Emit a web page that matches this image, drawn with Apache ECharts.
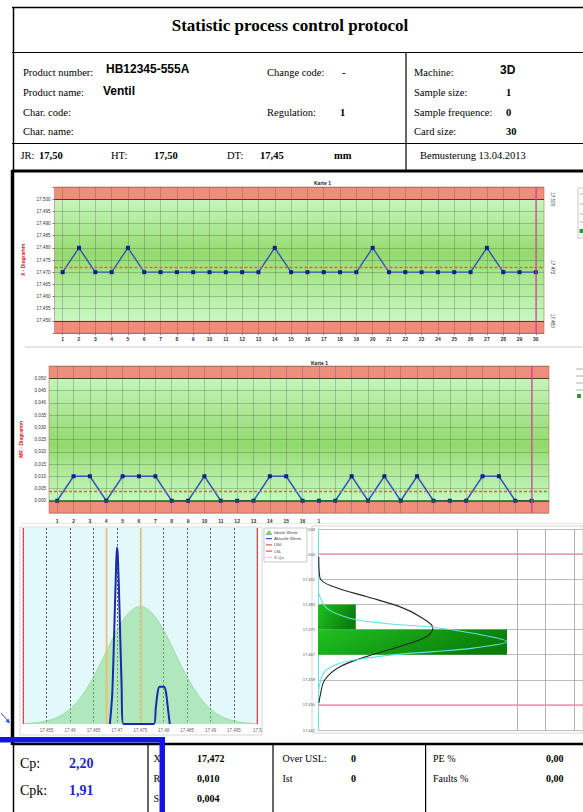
<!DOCTYPE html>
<html>
<head>
<meta charset="utf-8">
<script src="https://cdn.jsdelivr.net/npm/echarts@6.0.0/dist/echarts.min.js"></script>
<style>
html,body{margin:0;padding:0;background:#fff;overflow:hidden}
#chart{width:583px;height:812px}
</style>
</head>
<body>
<div id="chart"></div>
<script>
// ---------------- data ----------------
const reportTitle = 'Statistic process control protocol';
const infoLabels = ['Product number:', 'Product name:', 'Char. code:', 'Char. name:'];
const infoValues = ['HB12345-555A', 'Ventil', '', ''];
const midLabels = ['Change code:', '', 'Regulation:', ''];
const midValues = ['-', '', '1', ''];
const machineLabels = ['Machine:', 'Sample size:', 'Sample frequence:', 'Card size:'];
const machineValues = ['3D', '1', '0', '30'];
const tolLabels = ['JR:', 'HT:', 'DT:'];
const tolValues = ['17,50', '17,50', '17,45'];
const tolUnit = 'mm';
const samplingText = 'Bemusterung 13.04.2013';

const capLabels = ['Cp:', 'Cpk:'];
const capValues = ['2,20', '1,91'];
const statLabels = ['X', 'R', 'S'];
const statValues = ['17,472', '0,010', '0,004'];
const limitLabels = ['Over USL:', 'Ist'];
const limitValues = ['0', '0'];
const faultLabels = ['PE %', 'Faults %'];
const faultValues = ['0,00', '0,00'];

// X chart (Karte 1)
const samples = ['1','2','3','4','5','6','7','8','9','10','11','12','13','14','15','16','17','18','19','20','21','22','23','24','25','26','27','28','29','30'];
const xValues = [17.47,17.48,17.47,17.47,17.48,17.47,17.47,17.47,17.47,17.47,17.47,17.47,17.47,17.48,17.47,17.47,17.47,17.47,17.47,17.48,17.47,17.47,17.47,17.47,17.47,17.47,17.48,17.47,17.47,17.47];
const xUSL = 17.50, xLSL = 17.45, xMean = 17.472;
const xRightLabels = [17.45, 17.472, 17.50];
const currentSample = '30';

// MR chart
const mrValues = [0,0.01,0.01,0,0.01,0.01,0.01,0,0,0.01,0,0,0,0.01,0.01,0,0,0,0.01,0,0.01,0,0.01,0,0,0,0.01,0.01,0,0];
const mrLabels = ['1','2','3','4','5','6','7','8','9','10','11','12','13','14','15','16','1','','','','','','','','','','','','',''];
const mrUCL = 0.05, mrLCL = 0, mrMean = 0.004;

// histogram (distribution)
const idealCurve = [[17.450,0.002],[17.4525,0.006],[17.455,0.016],[17.4575,0.037],[17.460,0.077],[17.4625,0.144],[17.465,0.241],[17.4675,0.359],[17.470,0.478],[17.4725,0.566],[17.475,0.600],[17.4775,0.566],[17.480,0.478],[17.4825,0.359],[17.485,0.241],[17.4875,0.144],[17.490,0.077],[17.4925,0.037],[17.495,0.016],[17.4975,0.006],[17.500,0.002]];
const actualCurve = [[17.4685,0],[17.4690,0.15],[17.4694,0.45],[17.4698,0.78],[17.4700,0.90],[17.4702,0.86],[17.4706,0.55],[17.4710,0.20],[17.4714,0],[17.4779,0],[17.4783,0.08],[17.4787,0.16],[17.4791,0.19],[17.4801,0.19],[17.4805,0.16],[17.4809,0.08],[17.4813,0]];
const histLimits = [17.45, 17.50];
const histMarkA = 17.4678, histMarkB = 17.4751;
const histLegend = ['Ideale Werte', 'Aktuelle Werte', 'USL', 'LSL', 'X-Qu'];

// class table (right)
const classLabels = ['17,508','17,500','17,492','17,483','17,475','17,467','17,458','17,450','17,442'];
const classCounts = [0,0,0,5,25,0,0,0];
const classPercents = ['0%','0%','0%','17%','83%','0%','0%','0%'];
const classLimitPos = [1, 7];
const normalCurve = [[0.1,1.1],[0.26,1.95],[2.0,2.29],[6.4,2.69],[10.8,3.09],[13.5,3.49],[15.2,3.94],[14.4,4.28],[10.8,4.68],[6.4,5.08],[2.9,5.48],[0.9,6.0],[0.26,6.67],[0.13,6.92]];
const sampleCurve = [[0.04,2.49],[1.15,3.15],[4.2,3.55],[8.6,3.75],[15.2,3.91],[20.5,4.15],[25,4.48],[20.5,4.74],[15.2,4.88],[10.8,4.98],[6.4,5.14],[2.9,5.34],[0.9,5.67],[0.26,6.14],[0.04,6.52]];

// ---------------- layout ----------------
const SERIF = '"Liberation Serif", "Times New Roman", serif';
const SANS = '"Liberation Sans", Arial, sans-serif';
const G = [];
function ln(x1,y1,x2,y2,w,c,z){G.push({type:'line',silent:true,z:(z==null?100:z),shape:{x1,y1,x2,y2},style:{stroke:c||'#000',lineWidth:w||1}});}
function rc(x,y,w,h,fill,stroke,lw,z){G.push({type:'rect',silent:true,z:(z==null?100:z),shape:{x,y,width:w,height:h},style:{fill:fill||'none',stroke:stroke||'none',lineWidth:lw||0}});}
function tx(x,y,t,size,o){o=o||{};G.push({type:'text',silent:true,z:101,x,y,style:{text:t,fontSize:size,fontFamily:o.family||SERIF,fontWeight:o.bold?'bold':'normal',fill:o.color||'#000',align:o.align||'left',verticalAlign:'middle',textAlign:o.align||'left',textVerticalAlign:'middle'}});}

// header frame
ln(12,7.5,583,7.5,1.5);
ln(13.5,7,13.5,172,1.5);
ln(12,52.5,583,52.5,1.2);
ln(406,52.5,406,170,1.2);
ln(12,143.5,583,143.5,1.2);
ln(12,171,583,171,3);
tx(290,25,reportTitle,17,{bold:true,align:'center'});
const rowsY = [72.7, 92.7, 112.3, 131];
infoLabels.forEach((t,i)=>tx(23,rowsY[i],t,10.5));
tx(106,rowsY[0]-4,infoValues[0],12,{family:SANS,bold:true});
tx(103,rowsY[1]-2,infoValues[1],12,{family:SANS,bold:true});
midLabels.forEach((t,i)=>{ if(t) tx(267,rowsY[i],t,10.5); });
midValues.forEach((t,i)=>{ if(t) tx(i===0?342:340,rowsY[i],t,10.5,{bold:true}); });
machineLabels.forEach((t,i)=>tx(414,rowsY[i],t,10.5));
machineValues.forEach((t,i)=>{ if(i===0) tx(500,rowsY[0]-3,t,12,{family:SANS,bold:true}); else tx(506,rowsY[i],t,10.5,{bold:true}); });
const jrY = 155.7;
const tolLX = [20.5,111,227], tolVX = [39,154,260];
tolLabels.forEach((t,i)=>tx(tolLX[i],jrY,t,10.5));
tolValues.forEach((t,i)=>tx(tolVX[i],jrY,t,10.5,{bold:true}));
tx(334,jrY,tolUnit,10.5,{bold:true});
tx(420,jrY,samplingText,10.5);

// middle frame
ln(12.5,170,12.5,745,3.5);
ln(25,347,583,347,1.5,'#dcdcdc',-20);
ln(20,523.5,583,523.5,1,'#e8e8e8',-20);
rc(20,527,242,208,'none','#d6d6d6',1,-20);
rc(312,526,271,207,'none','#d6d6d6',1,-20);

// chart legends (mostly cut off at the right)
rc(578,188,30,50,'#fff','#bdbdbd',0.8,50);
[194,204,214,222].forEach(y=>ln(580,y,586,y,0.8,'#9a9a9a',51));
rc(579.5,229,4,4,'#2e9e2e','none',0,51);
[369,376,383,390].forEach(y=>ln(576,y,583,y,0.8,'#9a9a9a',51));
rc(577,394,4,4,'#2e9e2e','none',0,51);

// histogram legend
rc(264,528,43,34,'#fff','#bbbbbb',0.8,50);
const legCol = ['#7fd67f','#1a2aa8','#e03030','#e03030','#e8d070'];
histLegend.forEach((t,i)=>{
  const y = 532.5 + i*6.2;
  if(i===0) G.push({type:'polygon',silent:true,z:51,shape:{points:[[266,y+2],[269,y-2],[272,y+2]]},style:{fill:legCol[0],stroke:'#4a4',lineWidth:0.5}});
  else ln(266,y,272,y,1,legCol[i],51);
  tx(274,y,t,4.2,{family:SANS,color:'#444'});
});

// footer
ln(12,744,583,744,2.5);
ln(13.5,743,13.5,812,1.5);
ln(148,744,148,812,1.2);
ln(273,744,273,812,1.2);
ln(425.6,744,425.6,812,1.2);
const capY = [763, 790];
capLabels.forEach((t,i)=>tx(20,capY[i],t,14));
capValues.forEach((t,i)=>tx(69,capY[i],t,14,{bold:true,color:'#2424c8'}));
const statY = [758, 778, 798];
statLabels.forEach((t,i)=>tx(153.5,statY[i],t,10));
statValues.forEach((t,i)=>tx(197,statY[i],t,10,{bold:true}));
limitLabels.forEach((t,i)=>tx(282.5,statY[i],t,10));
limitValues.forEach((t,i)=>tx(351,statY[i],t,10,{bold:true}));
faultLabels.forEach((t,i)=>tx(433,statY[i],t,10));
faultValues.forEach((t,i)=>tx(546,statY[i],t,10,{bold:true}));

// blue annotation bracket + arrow
rc(0,737,165,5.5,'#1414e6','none',0,110);
rc(159.5,737,5.5,75,'#1414e6','none',0,110);
ln(1,713,8.5,721.5,1,'#3050e0',110);
G.push({type:'polygon',silent:true,z:110,shape:{points:[[10,723.5],[5.5,721.5],[8.5,718.5]]},style:{fill:'#3050e0'}});

// ---------------- chart ----------------
const fmt3 = v => v.toFixed(3).replace('.', ',');
const greenGrad = {type:'linear',x:0,y:0,x2:0,y2:1,colorStops:[
  {offset:0,color:'#c6f6bd'},{offset:0.3,color:'#a6e488'},{offset:0.45,color:'#94da6e'},
  {offset:0.62,color:'#a8e68e'},{offset:1,color:'#c8f8c2'}]};
const greenGrad2 = {type:'linear',x:0,y:0,x2:0,y2:1,colorStops:[
  {offset:0,color:'#c4f5bb'},{offset:0.4,color:'#a0e082'},{offset:0.55,color:'#92d96c'},
  {offset:0.7,color:'#a8e690'},{offset:1,color:'#c6f7c0'}]};
const RED = '#ef8c7a';
const MEAN_STYLE = {color:'#e8641a', width:1.3, type:[3,2], opacity:1};
const X_MIN = 17.445, X_MAX = 17.505, MR_MIN = -0.005, MR_MAX = 0.055;
const splitGray = {color:'rgba(70,90,70,0.38)', width:0.8};
const vline = (x, color, width, opacity) => ({type:'line', xAxisIndex:3, yAxisIndex:4, data:[[x,0],[x,1]],
  symbol:'none', silent:true, z:3, lineStyle:{color, width, opacity:opacity==null?1:opacity}});

const option = {
  animation: false,
  backgroundColor: '#fff',
  title: [
    {text:'Karte 1', left:309, top:175, textStyle:{fontSize:5, fontWeight:'bold', color:'#222', fontFamily:SANS}},
    {text:'Karte 1', left:306, top:355, textStyle:{fontSize:5, fontWeight:'bold', color:'#222', fontFamily:SANS}}
  ],
  grid: [
    {left:54.5, top:187, width:489.5, height:146, outerBoundsMode:'none', show:true, borderColor:'#b87060', borderWidth:0.6, backgroundColor:'transparent'},
    {left:49, top:366, width:500, height:147, outerBoundsMode:'none', show:true, borderColor:'#b87060', borderWidth:0.6, backgroundColor:'transparent'},
    {left:49, top:366, width:490.8, height:147, outerBoundsMode:'none'},
    {left:23.3, top:528, width:234, height:196, outerBoundsMode:'none', show:true, backgroundColor:'#e2f8fa', borderWidth:0},
    {left:318, top:529, width:265, height:201, outerBoundsMode:'none'}
  ],
  xAxis: [
    {gridIndex:0, type:'category', data:samples, boundaryGap:true,
     axisLine:{show:true, lineStyle:{color:'#777', width:0.8}},
     axisTick:{show:true, alignWithLabel:true, length:2, lineStyle:{color:'#777'}},
     axisLabel:{fontSize:5, margin:3, interval:0, color:'#333', fontFamily:SANS, fontWeight:'bold'},
     splitLine:{show:true, alignWithLabel:true, interval:0, lineStyle:splitGray}},
    {gridIndex:1, type:'value', min:0, max:1, show:false},
    {gridIndex:2, type:'category', data:samples, boundaryGap:true,
     axisLine:{show:false}, axisTick:{show:false},
     axisLabel:{fontSize:5, margin:5, interval:0, color:'#333', fontFamily:SANS, fontWeight:'bold', formatter:(v,i)=>mrLabels[i]},
     splitLine:{show:true, alignWithLabel:true, interval:0, lineStyle:splitGray}},
    {gridIndex:3, type:'value', min:histLimits[0], max:histLimits[1], interval:0.005,
     axisLine:{show:false}, axisTick:{show:false},
     axisLabel:{fontSize:4.5, margin:4, color:'#666', fontFamily:SANS,
       formatter:v=> v < 17.4525 ? '' : String(parseFloat(v.toFixed(3))).replace('.', ',')},
     splitLine:{show:true, lineStyle:{color:'#333', width:0.8, type:[2,2]}}},
    {gridIndex:4, type:'value', min:0, max:35.05, show:false}
  ],
  yAxis: [
    {gridIndex:0, type:'value', min:X_MIN, max:X_MAX, interval:0.005,
     axisLine:{show:false}, axisTick:{show:true, length:2, lineStyle:{color:'#777'}},
     axisLabel:{fontSize:4.6, margin:4, color:'#333', fontFamily:SANS,
       formatter:v=> (v < 17.4475 || v > 17.5025) ? '' : fmt3(v)},
     splitLine:{show:true, lineStyle:splitGray},
     name:'X - Diagramm', nameLocation:'middle', nameRotate:90, nameGap:23,
     nameTextStyle:{color:'#e02020', fontSize:5, fontWeight:'bold', fontFamily:SANS}},
    {gridIndex:0, type:'value', min:X_MIN, max:X_MAX, position:'right',
     axisLine:{show:false}, axisTick:{show:false}, splitLine:{show:false},
     axisLabel:{customValues:xRightLabels, rotate:-90, fontSize:4.6, margin:6, color:'#333', fontFamily:SANS, formatter:v=>fmt3(v)}},
    {gridIndex:1, type:'value', min:MR_MIN, max:MR_MAX, interval:0.005,
     axisLine:{show:false}, axisTick:{show:false},
     axisLabel:{fontSize:4.6, margin:3, color:'#333', fontFamily:SANS,
       formatter:v=> (v < -0.0025 || v > 0.0525) ? '' : fmt3(v)},
     splitLine:{show:true, lineStyle:splitGray},
     name:'MR - Diagramm', nameLocation:'middle', nameRotate:90, nameGap:21,
     nameTextStyle:{color:'#e02020', fontSize:5, fontWeight:'bold', fontFamily:SANS}},
    {gridIndex:2, type:'value', min:MR_MIN, max:MR_MAX, show:false},
    {gridIndex:3, type:'value', min:0, max:1, show:false},
    {gridIndex:4, type:'value', min:0, max:8, interval:1, inverse:true,
     axisLine:{show:true, lineStyle:{color:'#6de3e6', width:1}}, axisTick:{show:false},
     axisLabel:{fontSize:4, margin:3, color:'#555', fontFamily:SANS, formatter:v=>classLabels[Math.round(v)]},
     splitLine:{show:true, lineStyle:{color:'#b4b4b4', width:0.9}}}
  ],
  series: [
    // X chart zones
    {type:'line', xAxisIndex:0, yAxisIndex:0, data:[], z:-1, silent:true,
     markArea:{z:-1, silent:true, data:[
       [{yAxis:xLSL, itemStyle:{color:greenGrad}}, {yAxis:xUSL}],
       [{yAxis:xUSL, itemStyle:{color:RED}}, {yAxis:X_MAX}],
       [{yAxis:X_MIN, itemStyle:{color:RED}}, {yAxis:xLSL}]
     ]}},
    // X chart values
    {type:'line', name:'X', xAxisIndex:0, yAxisIndex:0, data:xValues,
     symbol:'rect', symbolSize:4, itemStyle:{color:'#152180'},
     lineStyle:{color:'#3452b8', width:1.4},
     markLine:{silent:true, precision:6, symbol:['none','none'], label:{show:false}, data:[
       {yAxis:xUSL, lineStyle:{color:'#3a3a60', width:1.2, type:'solid'}},
       {yAxis:xLSL, lineStyle:{color:'#5a3a18', width:1.2, type:'solid'}},
       {yAxis:xMean, lineStyle:MEAN_STYLE},
       {xAxis:currentSample, lineStyle:{color:'#e040a0', width:1.5, type:'solid', opacity:0.8}}
     ]}},
    // MR chart zones
    {type:'line', xAxisIndex:1, yAxisIndex:2, data:[], z:-1, silent:true,
     markArea:{z:-1, silent:true, data:[
       [{yAxis:mrLCL, itemStyle:{color:greenGrad2}}, {yAxis:mrUCL}],
       [{yAxis:mrUCL, itemStyle:{color:RED}}, {yAxis:MR_MAX}],
       [{yAxis:MR_MIN, itemStyle:{color:RED}}, {yAxis:mrLCL}]
     ]},
     markLine:{silent:true, precision:6, symbol:['none','none'], label:{show:false}, data:[
       {yAxis:mrUCL, lineStyle:{color:'#3a4a3a', width:1.1, type:'solid'}},
       {yAxis:mrLCL, lineStyle:{color:'#1e6a1e', width:1.6, type:'solid'}},
       {yAxis:mrMean, lineStyle:MEAN_STYLE}
     ]}},
    // MR values
    {type:'line', name:'MR', xAxisIndex:2, yAxisIndex:3, data:mrValues,
     symbol:'rect', symbolSize:4, itemStyle:{color:'#152180'},
     lineStyle:{color:'#3452b8', width:1.4},
     markLine:{silent:true, precision:6, symbol:['none','none'], label:{show:false}, data:[
       {xAxis:currentSample, lineStyle:{color:'#e040a0', width:1.5, type:'solid', opacity:0.8}}
     ]}},
    // ideal distribution
    {type:'line', name:histLegend[0], xAxisIndex:3, yAxisIndex:4, data:idealCurve, smooth:0.4,
     symbol:'none', lineStyle:{color:'#86d486', width:0.6}, z:2,
     areaStyle:{color:'rgba(128,214,128,0.72)'}},
    // vertical marks in the distribution view
    vline(histLimits[0], '#e03a3a', 1.2),
    vline(histLimits[1], '#e03a3a', 1.2),
    vline(histMarkA, '#f4b868', 2, 0.85),
    vline(histMarkB, '#d8c88c', 2, 0.85),
    // actual distribution
    {type:'line', name:histLegend[1], xAxisIndex:3, yAxisIndex:4, data:actualCurve, smooth:0.25,
     symbol:'none', lineStyle:{color:'#1a2aa8', width:2}, z:4},
    // class bars
    {type:'custom', xAxisIndex:4, yAxisIndex:5,
     data: classCounts.map((c,i)=>[c,i,i+1]).filter(d=>d[0]>0),
     renderItem:(params, api)=>{
       const p0 = api.coord([0, api.value(1)]);
       const p1 = api.coord([api.value(0), api.value(2)]);
       return {type:'rect', shape:{x:p0[0], y:Math.min(p0[1],p1[1]), width:p1[0]-p0[0], height:Math.abs(p1[1]-p0[1])},
         style:{fill:{type:'linear',x:0,y:0,x2:1,y2:0.3,colorStops:[{offset:0,color:'#1fc21f'},{offset:1,color:'#0b7e0b'}]}}};
     },
     markLine:{silent:true, precision:6, symbol:['none','none'], label:{show:false}, data:[
       {yAxis:classLimitPos[0], lineStyle:{color:'#ec98ac', width:1.5, type:'solid'}},
       {yAxis:classLimitPos[1], lineStyle:{color:'#ec98ac', width:1.5, type:'solid'}},
       {xAxis:26.3, lineStyle:{color:'#a8a8a8', width:0.9, type:'solid'}},
       {xAxis:30.0, lineStyle:{color:'#a8a8a8', width:0.9, type:'solid'}},
       {xAxis:33.9, lineStyle:{color:'#a8a8a8', width:0.9, type:'solid'}}
     ]}},
    // normal curve (class view)
    {type:'line', xAxisIndex:4, yAxisIndex:5, data:normalCurve, smooth:0.35, symbol:'none',
     lineStyle:{color:'#262626', width:1.1}, z:4},
    // sample curve (class view)
    {type:'line', xAxisIndex:4, yAxisIndex:5, data:sampleCurve, smooth:0.35, symbol:'none',
     lineStyle:{color:'#5fe2e4', width:1.1}, z:5},
    // class table text
    {type:'scatter', xAxisIndex:4, yAxisIndex:5, symbolSize:1, itemStyle:{opacity:0}, silent:true,
     data: classCounts.map((c,i)=>[28.3, i+0.5, String(c)]).concat(classPercents.map((p,i)=>[31.9, i+0.5, p])),
     label:{show:true, position:'inside', formatter:p=>p.value[2], fontSize:4, color:'#666', fontFamily:SANS}}
  ],
  graphic: G
};

const chart = echarts.init(document.getElementById('chart'), null, {renderer:'svg', width:583, height:812});
chart.setOption(option);
</script>
</body>
</html>
